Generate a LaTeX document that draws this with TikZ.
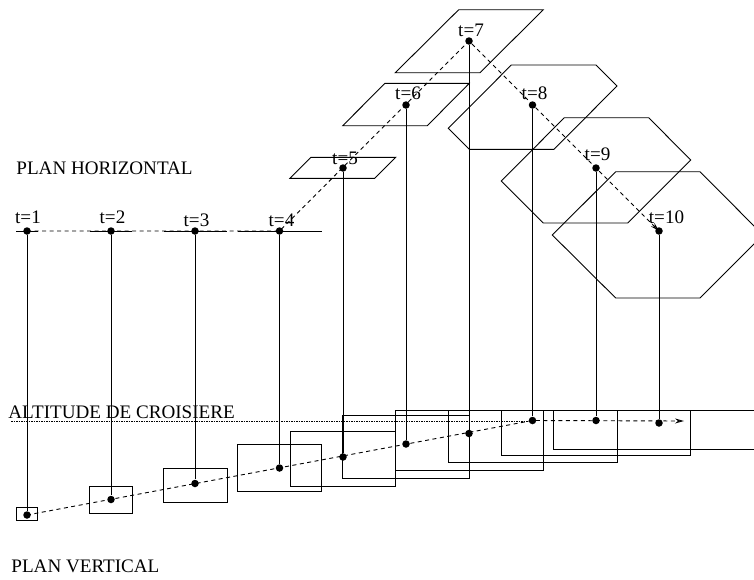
\documentclass[tikz,border=0pt]{standalone}
\usepackage{fontspec}
\setmainfont{Liberation Serif}
\usepackage{tikz}
\usetikzlibrary{arrows.meta}
\tikzset{
  pt/.style={circle,fill=black,inner sep=0pt,minimum size=7.5pt},
  lab/.style={inner sep=0pt,font=\fontsize{19.1}{20}\selectfont},
  title/.style={inner sep=0pt,anchor=west,font=\fontsize{19.1}{20}\selectfont},
  traj/.style={line width=0.9pt,dash pattern=on 4pt off 3.5pt},
  zone/.style={line width=0.9pt},
  drop/.style={line width=1pt}
}
\begin{document}
\begin{tikzpicture}[x=1pt,y=-1pt,line width=0.9pt]
    \clip (0,0) rectangle (754,579);

    %titles
    \node[title] (planh) at (16,168) {PLAN HORIZONTAL};
    \node[title] (alt) at (8,412) {ALTITUDE DE CROISIERE};
    \node[title] (planv) at (11,566) {PLAN VERTICAL};

    %points in the horizontal plane
    \node[pt] (h1) at (27,231) {};
    \node[pt] (h2) at (111,231) {};
    \node[pt] (h3) at (195,231) {};
    \node[pt] (h4) at (279.5,231) {};
    \node[pt] (h5) at (343,168) {};
    \node[pt] (h6) at (406,105) {};
    \node[pt] (h7) at (469,41) {};
    \node[pt] (h8) at (532.5,105) {};
    \node[pt] (h9) at (596,168) {};
    \node[pt] (h10) at (659,231) {};

    %points in the vertical plane
    \node[pt] (v1) at (27,515) {};
    \node[pt] (v2) at (111,499.5) {};
    \node[pt] (v3) at (195,483.5) {};
    \node[pt] (v4) at (279.5,468) {};
    \node[pt] (v5) at (343,457) {};
    \node[pt] (v6) at (406,444) {};
    \node[pt] (v7) at (469,433.5) {};
    \node[pt] (v8) at (532.5,420.5) {};
    \node[pt] (v9) at (596,420.5) {};
    \node[pt] (v10) at (659,423) {};
    \coordinate (vend) at (684,421);
    \coordinate (alta) at (11,421);
    \coordinate (altb) at (532.5,421);

    %labels
    \node[lab] (t1) at (28,217.5) {t=1};
    \node[lab] (t2) at (112.5,217.5) {t=2};
    \node[lab] (t3) at (196.5,220.5) {t=3};
    \node[lab] (t4) at (281.5,220.5) {t=4};
    \node[lab] (t5) at (345,158) {t=5};
    \node[lab] (t6) at (408,93) {t=6};
    \node[lab] (t7) at (471,30) {t=7};
    \node[lab] (t8) at (534.5,93) {t=8};
    \node[lab] (t9) at (597.5,154) {t=9};
    \node[lab] (t10) at (666.5,217) {t=10};

    %zones in the horizontal plane
    \draw[zone] (16,231) -- (37.5,231);
    \draw[zone] (90,231) -- (132,231);
    \draw[zone] (164,231) -- (227,231);
    \draw[zone] (237.5,231) -- (322,231);
    \draw[zone] (290,178.3) -- (311,157.3) -- (395.7,157.3) -- (374.7,178.3) -- cycle;
    \draw[zone] (342.7,125.7) -- (385,83.3) -- (469.3,83.3) -- (427.3,125.7) -- cycle;
    \draw[zone] (395.3,72.7) -- (458.7,9.7) -- (543.3,9.7) -- (480,72.7) -- cycle;
    \draw[zone] (448.3,128.3) -- (511.3,65) -- (596,65) -- (617,86) -- (554,149.3) -- (469.3,149.3) -- cycle;
    \draw[zone] (501.3,181) -- (564.3,117.7) -- (648.7,117.7) -- (690.7,160) -- (627.7,223) -- (543.3,223) -- cycle;
    \draw[zone] (552.3,235) -- (615.7,171.7) -- (700,171.7) -- (763,235) -- (700,298) -- (615.7,298) -- cycle;

    %zones in the vertical plane
    \draw[zone] (16,507.5) rectangle (37.5,520.7);
    \draw[zone] (89.7,486.7) rectangle (132,513);
    \draw[zone] (163.7,468) rectangle (227,502.3);
    \draw[zone] (237.3,444.3) rectangle (321.7,491.3);
    \draw[zone] (290,431.3) rectangle (395.3,486.3);
    \draw[zone] (342.7,415.3) rectangle (469.3,478.7);
    \draw[zone] (395.7,410) rectangle (543.3,470.7);
    \draw[zone] (448.3,410) rectangle (617,462.7);
    \draw[zone] (501,410) rectangle (690.7,455);
    \draw[zone] (553.7,410) rectangle (765,449.7);

    %verticals
    \draw[drop] (h1) -- (v1);
    \draw[drop] (h2) -- (v2);
    \draw[drop] (h3) -- (v3);
    \draw[drop] (h4) -- (v4);
    \draw[drop] (h5) -- (v5);
    \draw[drop] (h6) -- (v6);
    \draw[drop] (h7) -- (v7);
    \draw[drop] (h8) -- (v8);
    \draw[drop] (h9) -- (v9);
    \draw[drop] (h10) -- (v10);

    %cruise altitude
    \draw[line width=0.9pt,dash pattern=on 1.5pt off 1pt] (alta) -- (altb);

    %trajectories
    \draw[traj,-{Stealth[open,length=9pt,width=5pt]}] (h1.center) -- (h4.center) -- (h7.center) -- (h10.center);
    \draw[traj,-{Stealth[open,length=9pt,width=5pt]}] (v1.center) -- (v8.center) -- (vend);
\end{tikzpicture}
\end{document}
